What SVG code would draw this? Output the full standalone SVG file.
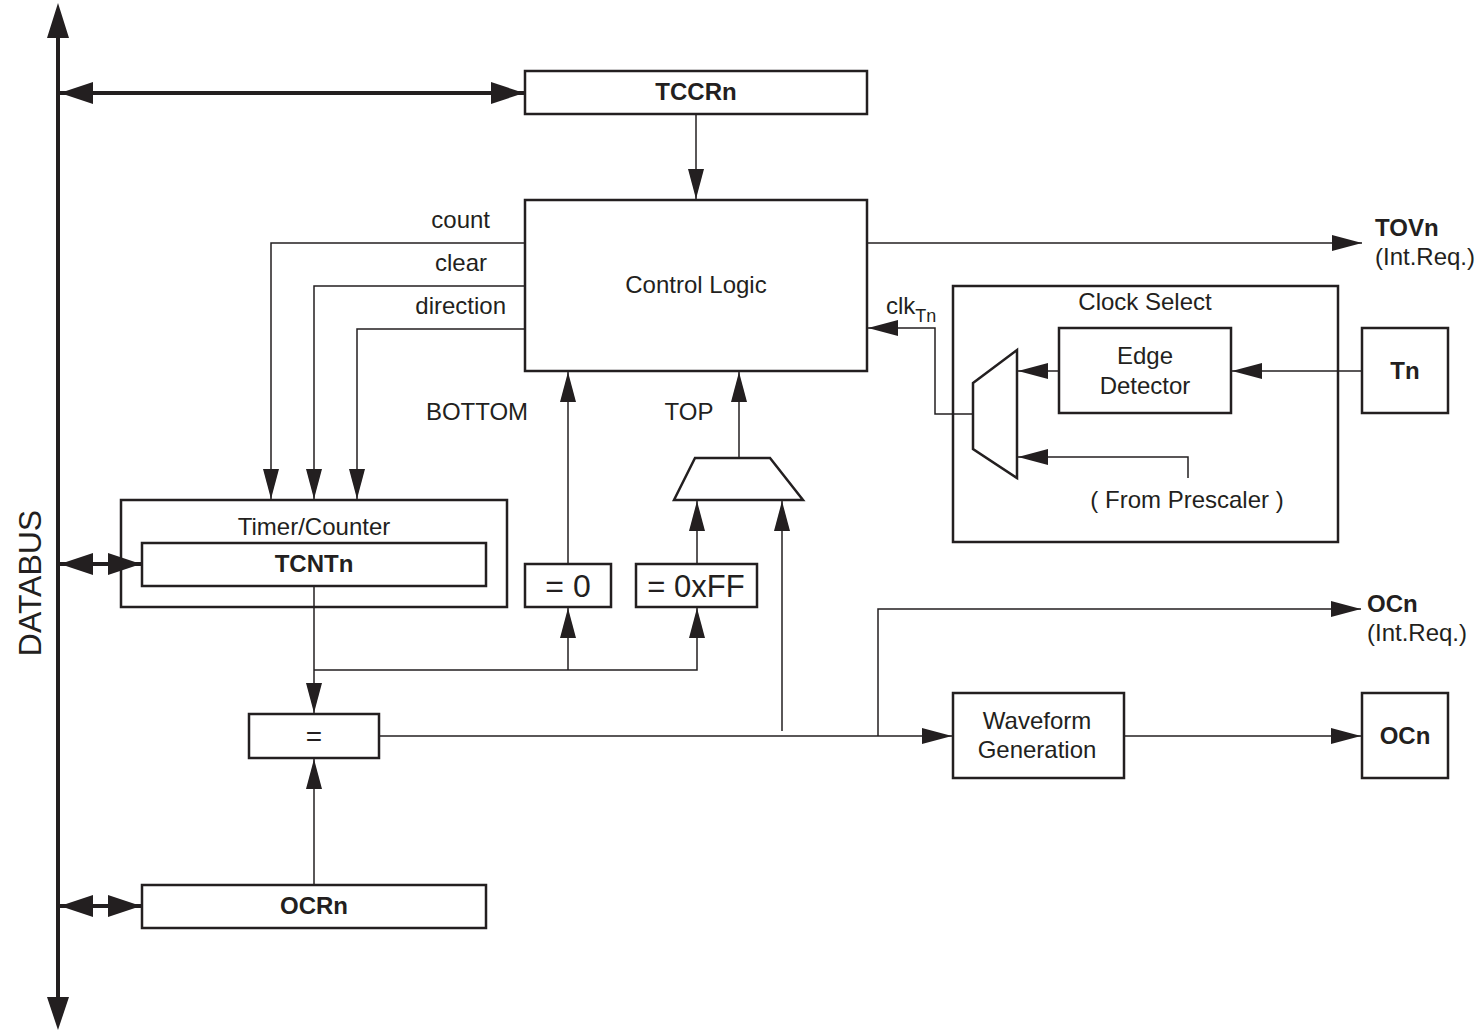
<svg xmlns="http://www.w3.org/2000/svg" width="1483" height="1033" viewBox="0 0 1483 1033">
<defs>
<style>
.box{fill:#fff;stroke:#231f20;stroke-width:2.5}
.ln{fill:none;stroke:#231f20;stroke-width:1.5}
.bus{fill:none;stroke:#231f20;stroke-width:4}
.t{font-family:"Liberation Sans",Arial,sans-serif;font-size:24px;fill:#231f20}
.c{text-anchor:middle}
.b{font-weight:bold}
.big{font-size:32px}
.ff{font-size:31px}
.sub{font-size:18px}
</style>
<marker id="ah" markerUnits="userSpaceOnUse" markerWidth="30" markerHeight="16" refX="30" refY="8" orient="auto" viewBox="0 0 30 16"><path d="M0,0 L30,8 L0,16 z" fill="#231f20"/></marker>
<marker id="bh" markerUnits="userSpaceOnUse" markerWidth="33" markerHeight="22" refX="33" refY="11" orient="auto-start-reverse" viewBox="0 0 33 22"><path d="M0,0 L33,11 L0,22 z" fill="#231f20"/></marker>
</defs>
<g id="databus-label"><text class="t big" transform="translate(41,583) rotate(-90)" text-anchor="middle">DATABUS</text></g>
<g id="tccrn"><rect class="box" x="525" y="71" width="342" height="43"/><text class="t b c" x="696" y="100">TCCRn</text></g>
<g id="control-logic"><rect class="box" x="525" y="200" width="342" height="171"/><text class="t c" x="696" y="293">Control Logic</text></g>
<g id="labels">
<text class="t" x="490" y="228" text-anchor="end">count</text>
<text class="t" x="487" y="271" text-anchor="end">clear</text>
<text class="t" x="506" y="314" text-anchor="end">direction</text>
<text class="t c" x="477" y="420">BOTTOM</text>
<text class="t c" x="689" y="420">TOP</text>
<text class="t" x="886" y="314">clk<tspan class="sub" dy="8">Tn</tspan></text>
</g>
<g id="clock-select"><rect class="box" x="953" y="286" width="385" height="256"/><text class="t c" x="1145" y="310">Clock Select</text><text class="t c" x="1187" y="508">( From Prescaler )</text></g>
<g id="top-mux"><polygon class="box" points="695,458 770,458 803,500 674,500"/></g>
<g id="timer-counter"><rect class="box" x="121" y="500" width="386" height="107"/><text class="t c" x="314" y="535">Timer/Counter</text></g>
<g id="tcntn"><rect class="box" x="142" y="543" width="344" height="43"/><text class="t b c" x="314" y="572">TCNTn</text></g>
<g id="eq0"><rect class="box" x="525" y="564" width="86" height="43"/><text class="t big c" x="568" y="597">= 0</text></g>
<g id="eqff"><rect class="box" x="636" y="564" width="121" height="43"/><text class="t ff c" x="696" y="597">= 0xFF</text></g>
<g id="comparator"><rect class="box" x="249" y="714" width="130" height="44"/><text class="t c" x="314" y="746" style="font-size:28px">=</text></g>
<g id="ocrn"><rect class="box" x="142" y="885" width="344" height="43"/><text class="t b c" x="314" y="914">OCRn</text></g>
<g id="waveform"><rect class="box" x="953" y="693" width="171" height="85"/><text class="t c" x="1037" y="729">Waveform</text><text class="t c" x="1037" y="758">Generation</text></g>
<g id="ocn-box"><rect class="box" x="1362" y="693" width="86" height="85"/><text class="t b c" x="1405" y="744">OCn</text></g>
<g id="ocn-int"><text class="t b" x="1367" y="612">OCn</text><text class="t" x="1367" y="641">(Int.Req.)</text></g>
<g id="tovn"><text class="t b" x="1375" y="236">TOVn</text><text class="t" x="1375" y="265">(Int.Req.)</text></g>
<g id="edge-detector"><rect class="box" x="1059" y="328" width="172" height="85"/><text class="t c" x="1145" y="364">Edge</text><text class="t c" x="1145" y="394">Detector</text></g>
<g id="clock-mux"><polygon class="box" points="973,383 1017,350 1017,478 973,449"/></g>
<g id="tn"><rect class="box" x="1362" y="328" width="86" height="85"/><text class="t b c" x="1405" y="379">Tn</text></g>
<g id="connectors">
<line class="bus" x1="58" y1="30" x2="58" y2="1005"/>
<path d="M58,3 L47,38 L69,38 z M58,1030 L47,997 L69,997 z" fill="#231f20"/>
<line class="bus" x1="60" y1="93" x2="524" y2="93" marker-start="url(#bh)" marker-end="url(#bh)"/>
<line class="bus" x1="60" y1="564" x2="141" y2="564" marker-start="url(#bh)" marker-end="url(#bh)"/>
<line class="bus" x1="60" y1="906" x2="141" y2="906" marker-start="url(#bh)" marker-end="url(#bh)"/>
<line class="ln" x1="696" y1="115" x2="696" y2="199" marker-end="url(#ah)"/>
<polyline class="ln" points="524,243 271,243 271,499" marker-end="url(#ah)"/>
<polyline class="ln" points="524,286 314,286 314,499" marker-end="url(#ah)"/>
<polyline class="ln" points="524,329 357,329 357,499" marker-end="url(#ah)"/>
<line class="ln" x1="568" y1="563" x2="568" y2="372" marker-end="url(#ah)"/>
<line class="ln" x1="739" y1="457" x2="739" y2="372" marker-end="url(#ah)"/>
<line class="ln" x1="697" y1="563" x2="697" y2="501" marker-end="url(#ah)"/>
<line class="ln" x1="782" y1="731" x2="782" y2="501" marker-end="url(#ah)"/>
<line class="ln" x1="314" y1="587" x2="314" y2="713" marker-end="url(#ah)"/>
<polyline class="ln" points="314,670 697,670 697,608" marker-end="url(#ah)"/>
<line class="ln" x1="568" y1="670" x2="568" y2="608" marker-end="url(#ah)"/>
<line class="ln" x1="314" y1="884" x2="314" y2="759" marker-end="url(#ah)"/>
<line class="ln" x1="380" y1="736" x2="952" y2="736" marker-end="url(#ah)"/>
<polyline class="ln" points="878,736 878,609 1361,609" marker-end="url(#ah)"/>
<line class="ln" x1="1125" y1="736" x2="1361" y2="736" marker-end="url(#ah)"/>
<line class="ln" x1="868" y1="243" x2="1362" y2="243" marker-end="url(#ah)"/>
<line class="ln" x1="1361" y1="371" x2="1232" y2="371" marker-end="url(#ah)"/>
<line class="ln" x1="1058" y1="371" x2="1018" y2="371" marker-end="url(#ah)"/>
<polyline class="ln" points="1188,478 1188,457 1018,457" marker-end="url(#ah)"/>
<polyline class="ln" points="972,414 935,414 935,328 868,328" marker-end="url(#ah)"/>
</g>
</svg>
